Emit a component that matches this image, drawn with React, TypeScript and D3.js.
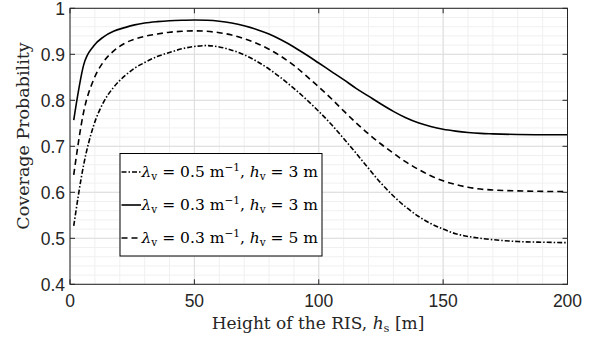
import React from "react";
import * as d3 from "d3";

const heights = [1.5, 5.5, 9.5, 13.5, 17.5, 22, 26, 30, 35, 40, 45, 50, 55, 60, 65, 70, 75, 80, 85, 90, 95, 100, 105, 110, 115, 120, 125, 130, 135, 140, 145, 150, 155, 160, 165, 170, 180, 190, 200];

const seriesA = [0.527, 0.66, 0.745, 0.796, 0.828, 0.853, 0.87, 0.882, 0.895, 0.904, 0.912, 0.917, 0.919, 0.916, 0.909, 0.899, 0.885, 0.868, 0.848, 0.826, 0.802, 0.776, 0.748, 0.717, 0.685, 0.652, 0.62, 0.592, 0.568, 0.548, 0.532, 0.52, 0.51, 0.504, 0.5, 0.497, 0.493, 0.4915, 0.4905];
const seriesB = [0.757, 0.877, 0.918, 0.938, 0.95, 0.958, 0.964, 0.968, 0.971, 0.973, 0.974, 0.9745, 0.974, 0.972, 0.968, 0.962, 0.954, 0.944, 0.931, 0.916, 0.899, 0.881, 0.863, 0.845, 0.826, 0.809, 0.792, 0.776, 0.762, 0.751, 0.743, 0.737, 0.733, 0.73, 0.728, 0.727, 0.7255, 0.725, 0.725];
const seriesC = [0.638, 0.775, 0.845, 0.884, 0.907, 0.924, 0.933, 0.939, 0.944, 0.948, 0.95, 0.951, 0.95, 0.947, 0.942, 0.934, 0.924, 0.911, 0.895, 0.876, 0.853, 0.829, 0.804, 0.777, 0.751, 0.727, 0.705, 0.685, 0.666, 0.65, 0.636, 0.625, 0.617, 0.611, 0.607, 0.605, 0.603, 0.602, 0.6015];

const lambdaLabels = ["0.5", "0.3", "0.3"];
const hvLabels = ["3", "3", "5"];
const dashStyles = ["5,2,1.5,2", "", "6,4"];

const xTicks = [0, 50, 100, 150, 200];
const yTicks = [0.4, 0.5, 0.6, 0.7, 0.8, 0.9, 1];
const xLabel = "Height of the RIS, ";
const yLabel = "Coverage Probability";

const W = 597;
const H = 339;
const L = 70, R = 567.5, T = 8.3, B = 284.3;

export default function App() {
  const x = d3.scaleLinear().domain([0, 200]).range([L, R]);
  const y = d3.scaleLinear().domain([0.4, 1]).range([B, T]);
  const allSeries = [seriesA, seriesB, seriesC];
  const line = d3
    .line<number>()
    .x((_, i) => x(heights[i]))
    .y((d) => y(d))
    .curve(d3.curveMonotoneX);

  const xMinor = d3.range(0, 201, 10);
  const yMinor = d3.range(0, 31).map((i) => 0.4 + i * 0.02);
  const axisColor = "#262626";
  const serif = "'DejaVu Serif', serif";
  const sans = "'Liberation Sans', Arial, sans-serif";

  const legX = 120, legY = 153.5, legW = 202, legH = 102.5;
  const rowY = [172, 205, 238];

  return (
    <svg width={W} height={H} style={{ position: "absolute", left: 0, top: 0, background: "#fff" }}>
      <rect x={0} y={0} width={W} height={H} fill="#fff" />
      {xMinor.map((v) => (
        <line key={"xm" + v} x1={x(v)} x2={x(v)} y1={T} y2={B} stroke="#f0f0f0" strokeWidth={1} />
      ))}
      {yMinor.map((v, i) => (
        <line key={"ym" + i} x1={L} x2={R} y1={y(v)} y2={y(v)} stroke="#f0f0f0" strokeWidth={1} />
      ))}
      {xTicks.map((v) => (
        <line key={"xg" + v} x1={x(v)} x2={x(v)} y1={T} y2={B} stroke="#dcdcdc" strokeWidth={1} />
      ))}
      {yTicks.map((v) => (
        <line key={"yg" + v} x1={L} x2={R} y1={y(v)} y2={y(v)} stroke="#dcdcdc" strokeWidth={1} />
      ))}
      {allSeries.map((s, i) => (
        <path
          key={"s" + i}
          d={line(s) || ""}
          fill="none"
          stroke="#000"
          strokeWidth={1.6}
          strokeDasharray={dashStyles[i] || undefined}
        />
      ))}
      <rect x={L} y={T} width={R - L} height={B - T} fill="none" stroke={axisColor} strokeWidth={1} />
      {xTicks.map((v) => (
        <g key={"xt" + v}>
          <line x1={x(v)} x2={x(v)} y1={B} y2={B - 5} stroke={axisColor} />
          <line x1={x(v)} x2={x(v)} y1={T} y2={T + 5} stroke={axisColor} />
          <text x={x(v)} y={307} textAnchor="middle" fontFamily={sans} fontSize={17.5} fill={axisColor}>
            {v}
          </text>
        </g>
      ))}
      {yTicks.map((v) => (
        <g key={"yt" + v}>
          <line x1={L} x2={L + 5} y1={y(v)} y2={y(v)} stroke={axisColor} />
          <line x1={R} x2={R - 5} y1={y(v)} y2={y(v)} stroke={axisColor} />
          <text x={L - 5} y={y(v) + 6.3} textAnchor="end" fontFamily={sans} fontSize={17.5} fill={axisColor}>
            {v === 1 ? "1" : v.toFixed(1)}
          </text>
        </g>
      ))}
      <text x={318} y={329} textAnchor="middle" fontFamily={serif} fontSize={17} fill={axisColor}>
        {xLabel}
        <tspan fontStyle="italic">h</tspan>
        <tspan fontSize={11.5} dy={3}>s</tspan>
        <tspan dy={-3}> [m]</tspan>
      </text>
      <text
        transform={`translate(29,136) rotate(-90)`}
        textAnchor="middle"
        fontFamily={serif}
        fontSize={17.5}
        fill={axisColor}
      >
        {yLabel}
      </text>
      <rect x={legX} y={legY} width={legW} height={legH} fill="#fff" stroke="#000" strokeWidth={1} />
      {lambdaLabels.map((lam, i) => (
        <g key={"lg" + i}>
          <line
            x1={legX + 1.5}
            x2={legX + 21}
            y1={rowY[i]}
            y2={rowY[i]}
            stroke="#000"
            strokeWidth={1.6}
            strokeDasharray={dashStyles[i] || undefined}
          />
          <text x={legX + 21.5} y={rowY[i] + 5} fontFamily={serif} fontSize={15.5} fill="#000">
            <tspan fontStyle="italic">λ</tspan>
            <tspan fontSize={10.5} dy={3}>v</tspan>
            <tspan dy={-3}>{` = ${lam} m`}</tspan>
            <tspan fontSize={10.5} dy={-6}>−1</tspan>
            <tspan dy={6}>, </tspan>
            <tspan fontStyle="italic">h</tspan>
            <tspan fontSize={10.5} dy={3}>v</tspan>
            <tspan dy={-3}>{` = ${hvLabels[i]} m`}</tspan>
          </text>
        </g>
      ))}
    </svg>
  );
}
